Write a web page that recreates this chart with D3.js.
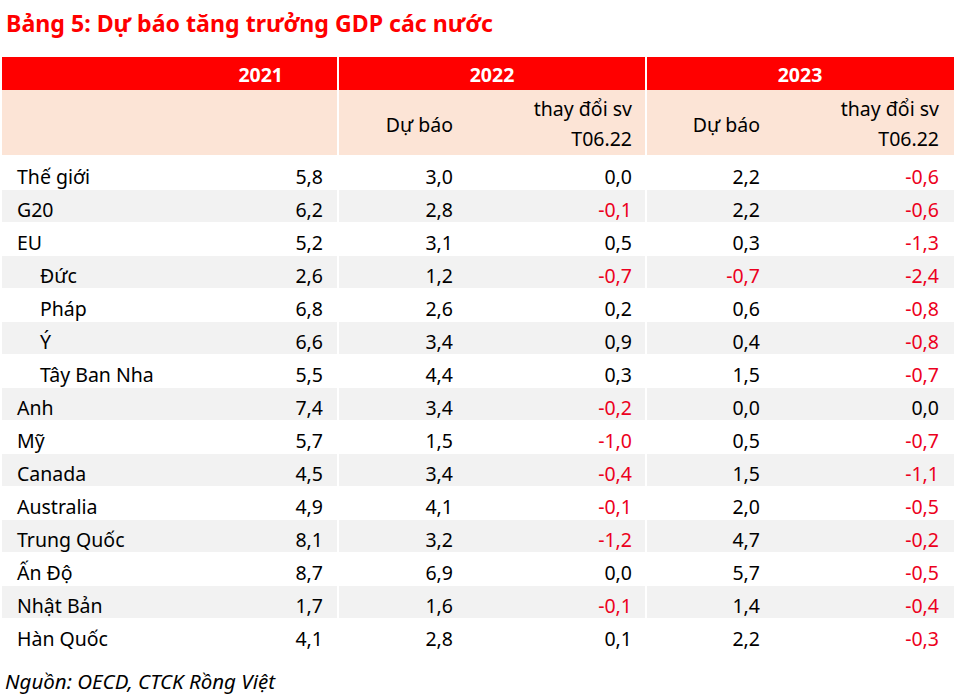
<!DOCTYPE html>
<html>
<head>
<meta charset="utf-8">
<script src="https://cdn.jsdelivr.net/npm/d3@7"></script>
<style>
  html, body { margin: 0; padding: 0; background: #fff; }
  svg { display: block; }
</style>
</head>
<body>
<div id="chart"></div>
<script>
// ---- data ----
const title = "Bảng 5: Dự báo tăng trưởng GDP các nước";
const source = "Nguồn: OECD, CTCK Rồng Việt";
const years = ["2021", "2022", "2023"];
const subHeaders = ["Dự báo", "thay đổi sv|T06.22", "Dự báo", "thay đổi sv|T06.22"];
const countries = ["Thế giới", "G20", "EU", "Đức", "Pháp", "Ý", "Tây Ban Nha", "Anh", "Mỹ", "Canada", "Australia", "Trung Quốc", "Ấn Độ", "Nhật Bản", "Hàn Quốc"];
const indented = ["Đức", "Pháp", "Ý", "Tây Ban Nha"];
const gdp2021 =      [5.8, 6.2, 5.2, 2.6, 6.8, 6.6, 5.5, 7.4, 5.7, 4.5, 4.9, 8.1, 8.7, 1.7, 4.1];
const forecast2022 = [3.0, 2.8, 3.1, 1.2, 2.6, 3.4, 4.4, 3.4, 1.5, 3.4, 4.1, 3.2, 6.9, 1.6, 2.8];
const change2022 =   [0.0, -0.1, 0.5, -0.7, 0.2, 0.9, 0.3, -0.2, -1.0, -0.4, -0.1, -1.2, 0.0, -0.1, 0.1];
const forecast2023 = [2.2, 2.2, 0.3, -0.7, 0.6, 0.4, 1.5, 0.0, 0.5, 1.5, 2.0, 4.7, 5.7, 1.4, 2.2];
const change2023 =   [-0.6, -0.6, -1.3, -2.4, -0.8, -0.8, -0.7, 0.0, -0.7, -1.1, -0.5, -0.2, -0.5, -0.4, -0.3];

// ---- layout ----
const W = 962, H = 698;
const RED = "#ff0000", PINK = "#fce4d6", STRIPE = "#f2f2f2", NEG = "#ec0020";
const FONT = "'Noto Sans', 'Open Sans', sans-serif";

const svg = d3.select("#chart").append("svg").attr("width", W).attr("height", H);

const loc = d3.formatLocale({decimal: ",", thousands: ".", grouping: [3], currency: ["", ""], minus: "-"});
const fmt = loc.format(".1f");

// column groups (x extents of the three header blocks)
const groups = [[2, 337], [339, 645], [647, 954]];
// value column right edges
const valueCols = [
  {key: "gdp2021", vals: gdp2021, x: 323},
  {key: "f2022", vals: forecast2022, x: 453},
  {key: "c2022", vals: change2022, x: 632},
  {key: "f2023", vals: forecast2023, x: 760},
  {key: "c2023", vals: change2023, x: 939}
];

// title
svg.append("text")
  .attr("x", 6).attr("y", 32)
  .attr("font-family", FONT).attr("font-weight", "bold").attr("font-size", 24)
  .attr("fill", RED)
  .attr("textLength", 487).attr("lengthAdjust", "spacingAndGlyphs")
  .text(title);

// header bands
const hdr = svg.append("g");
groups.forEach((g, i) => {
  hdr.append("rect").attr("x", g[0]).attr("y", 57).attr("width", g[1] - g[0]).attr("height", 33).attr("fill", RED);
  hdr.append("rect").attr("x", g[0]).attr("y", 90).attr("width", g[1] - g[0]).attr("height", 65).attr("fill", PINK);
});
// year labels
const yearX = [{x: 283, anchor: "end"}, {x: 492, anchor: "middle"}, {x: 800, anchor: "middle"}];
years.forEach((yr, i) => {
  hdr.append("text")
    .attr("x", yearX[i].x).attr("y", 82)
    .attr("text-anchor", yearX[i].anchor)
    .attr("font-family", FONT).attr("font-weight", "bold").attr("font-size", 19.5)
    .attr("fill", "#fff").text(yr);
});
// sub headers
subHeaders.forEach((s, i) => {
  const x = valueCols[i + 1].x;
  const lines = s.split("|");
  const t = hdr.append("text")
    .attr("text-anchor", "end")
    .attr("font-family", FONT).attr("font-size", 19.5).attr("fill", "#000");
  if (lines.length === 1) {
    t.append("tspan").attr("x", x).attr("y", 132).text(lines[0]);
  } else {
    t.append("tspan").attr("x", x).attr("y", 116).text(lines[0]);
    t.append("tspan").attr("x", x).attr("y", 146).text(lines[1]);
  }
});

// rows
const y = d3.scaleBand().domain(countries).range([157, 652]).padding(0);
const body = svg.append("g");
countries.forEach((c, i) => {
  if (i % 2 === 1) {
    groups.forEach(g => {
      body.append("rect")
        .attr("x", g[0]).attr("y", y(c))
        .attr("width", g[1] - g[0]).attr("height", y.bandwidth() - 1)
        .attr("fill", STRIPE);
    });
  }
});

body.selectAll("text.label")
  .data(countries)
  .join("text")
  .attr("class", "label")
  .attr("x", d => indented.includes(d) ? 40 : 17)
  .attr("y", d => y(d) + 27)
  .attr("font-family", FONT).attr("font-size", 19.5).attr("fill", "#000")
  .text(d => d);

valueCols.forEach(col => {
  body.selectAll("text." + col.key)
    .data(col.vals)
    .join("text")
    .attr("class", col.key)
    .attr("x", col.x)
    .attr("y", (d, i) => y(countries[i]) + 27)
    .attr("text-anchor", "end")
    .attr("font-family", FONT).attr("font-size", 19.5)
    .attr("fill", d => d < 0 ? NEG : "#000")
    .text(d => fmt(d));
});

// source
svg.append("text")
  .attr("x", 5).attr("y", 689)
  .attr("font-family", FONT).attr("font-style", "italic").attr("font-size", 20)
  .attr("fill", "#000")
  .attr("textLength", 270).attr("lengthAdjust", "spacingAndGlyphs")
  .text(source);
</script>
</body>
</html>
